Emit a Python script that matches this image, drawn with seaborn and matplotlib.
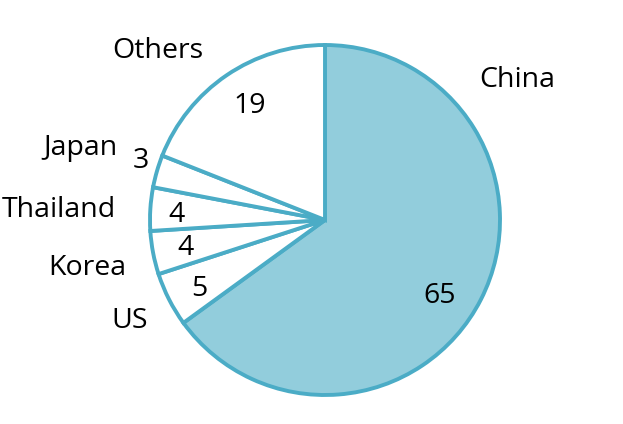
import matplotlib
matplotlib.use('Agg')
import seaborn as sns
from matplotlib import pyplot as plt

countries = ['China', 'US', 'Korea', 'Thailand', 'Japan', 'Others']
shares = [65, 5, 4, 4, 3, 19]

# label placement (pie radius = 1, centre at origin)
name_pos = [(1.097, 0.80), (-1.114, -0.577), (-1.36, -0.274), (-1.52, 0.057), (-1.40, 0.412), (-0.954, 0.966)]
value_pos = [(0.657, -0.434), (-0.72, -0.394), (-0.80, -0.16), (-0.851, 0.029), (-1.051, 0.337), (-0.429, 0.652)]

sns.set_theme(style='white')
plt.rcParams['font.family'] = ['Open Sans', 'DejaVu Sans']

edge = '#4BACC6'
fills = ['#92CDDC'] + ['white'] * (len(countries) - 1)

fig = plt.figure(figsize=(6.23, 4.24), dpi=100)
ax = fig.add_axes([150 / 623, 29 / 424, 350 / 623, 350 / 424])
ax.pie(shares, colors=fills, startangle=90, counterclock=False, radius=1,
       wedgeprops=dict(edgecolor=edge, linewidth=2.8, joinstyle='miter'))
ax.set_xlim(-1.0, 1.0)
ax.set_ylim(-1.0, 1.0)
ax.set_aspect('equal')

for name, (x, y) in zip(countries, name_pos):
    ax.text(x, y, name, ha='center', va='center', fontsize=20.5, color='black', clip_on=False)
for val, (x, y) in zip(shares, value_pos):
    ax.text(x, y, str(val), ha='center', va='center', fontsize=20.5, color='black', clip_on=False)

ax.axis('off')
plt.savefig('out.png', dpi=100)
